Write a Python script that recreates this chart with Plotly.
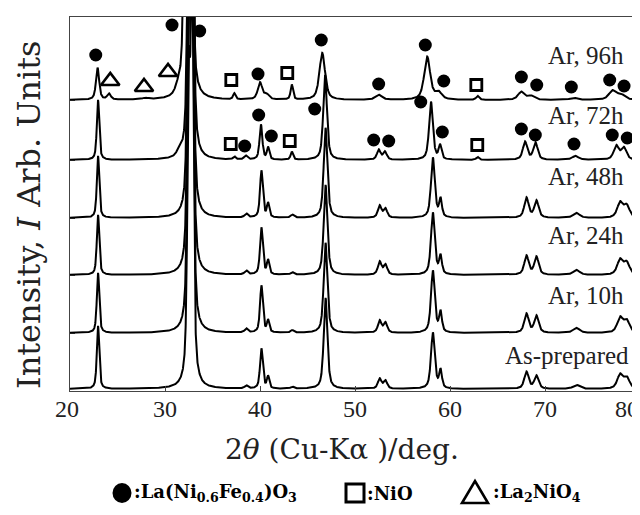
import numpy as np
import plotly.graph_objects as go

# ---------------- data ----------------
sample_labels = ["As-prepared", "Ar, 10h", "Ar, 24h", "Ar, 48h", "Ar, 72h", "Ar, 96h"]
baseline_offsets = [2, 58, 116, 173, 231, 291]          # vertical stacking offsets (a.u.)

# peak tables: position (deg 2theta), height (a.u.), FWHM (deg)
asprep_pos = [22.95, 32.5, 32.85, 38.55, 40.15, 40.85, 43.4, 46.9, 52.6, 53.2, 58.2, 59.0, 68.05, 69.1, 73.3, 77.9, 78.6]
asprep_hgt = [63, 280, 400, 3, 40, 12, 2, 91, 10, 8, 56, 18, 17, 13, 4, 14, 11]
asprep_fwhm = [0.3, 0.35, 0.35, 0.4, 0.35, 0.3, 0.4, 0.46, 0.45, 0.45, 0.48, 0.35, 0.55, 0.55, 0.8, 0.7, 0.7]

h10_pos = [22.95, 32.5, 32.85, 38.55, 40.15, 40.85, 43.4, 46.9, 52.6, 53.2, 58.2, 59.0, 68.05, 69.1, 73.3, 77.9, 78.6]
h10_hgt = [60, 280, 400, 4, 47, 12, 2.5, 90, 12, 10, 62, 20, 19, 17, 5, 15, 12]
h10_fwhm = [0.3, 0.35, 0.35, 0.4, 0.35, 0.3, 0.4, 0.46, 0.45, 0.45, 0.48, 0.35, 0.55, 0.55, 0.8, 0.7, 0.7]

h24_pos = [22.95, 32.5, 32.85, 38.55, 40.15, 40.85, 43.4, 46.9, 52.6, 53.2, 58.2, 59.0, 68.05, 69.1, 73.3, 77.9, 78.6]
h24_hgt = [60, 280, 400, 4, 47, 14, 2.5, 90, 13, 10, 62, 18, 19, 18, 5, 15, 12]
h24_fwhm = [0.3, 0.35, 0.35, 0.4, 0.35, 0.3, 0.4, 0.46, 0.45, 0.45, 0.48, 0.35, 0.55, 0.55, 0.8, 0.7, 0.7]

h48_pos = [22.95, 32.5, 32.85, 38.55, 40.15, 40.85, 43.4, 46.9, 52.6, 53.2, 58.2, 59.0, 68.05, 69.1, 73.3, 77.9, 78.6]
h48_hgt = [62, 280, 400, 4, 47, 14, 3, 90, 12, 9, 60, 18, 20, 17, 5, 15, 12]
h48_fwhm = [0.3, 0.35, 0.35, 0.4, 0.35, 0.3, 0.4, 0.46, 0.45, 0.45, 0.48, 0.35, 0.55, 0.55, 0.8, 0.7, 0.7]

h72_pos = [22.95, 31.5, 32.5, 32.85, 37.3, 38.5, 40.1, 40.85, 43.35, 46.85, 52.5, 53.15, 58.0, 58.95, 62.9, 67.9, 69.0, 73.2, 77.5, 78.3]
h72_hgt = [60, 5, 280, 400, 3, 4, 35, 12, 8, 85, 10, 8, 58, 14, 3, 18, 17, 4, 14, 12]
h72_fwhm = [0.3, 0.6, 0.35, 0.35, 0.3, 0.4, 0.35, 0.3, 0.3, 0.46, 0.45, 0.45, 0.48, 0.35, 0.35, 0.55, 0.55, 0.8, 0.65, 0.65]

h96_pos = [22.9, 24.1, 27.9, 31.4, 32.15, 32.7, 37.3, 40.0, 40.7, 43.35, 46.55, 52.5, 57.6, 58.8, 62.9, 67.5, 68.5, 73.0, 77.1, 78.0]
h96_hgt = [32, 6, 1.5, 8, 200, 400, 6, 17, 5, 15, 47, 5, 43, 7, 4, 8, 4, 2, 9, 5]
h96_fwhm = [0.4, 0.45, 0.7, 0.7, 0.45, 0.4, 0.3, 0.55, 0.6, 0.3, 0.7, 0.8, 0.75, 0.8, 0.35, 0.8, 0.8, 0.9, 0.9, 1.0]

# phase markers (2theta, stacked intensity)
lnf_x = [22.71, 30.74, 33.65, 39.79, 46.45, 52.49, 57.4, 59.34, 67.51, 69.13, 72.77, 76.81, 78.32,
         39.86, 45.76, 38.39, 41.19, 56.92, 51.97, 53.55, 59.19, 67.51, 68.98, 73.05, 77.08, 78.66]
lnf_y = [336, 366, 360, 317, 351, 307, 346, 310, 314, 306, 304, 311, 305,
         276, 282, 245, 255, 289, 251, 250, 259, 262, 256, 247, 256, 253]
nio_x = [36.98, 42.87, 62.77, 36.92, 43.13, 62.87]
nio_y = [311, 318, 306, 247, 250, 246]
la2nio4_x = [24.24, 27.79, 30.32]
la2nio4_y = [310, 304, 319]

x_ticks = [20, 30, 40, 50, 60, 70, 80]
label_y = [36, 96, 156, 215, 276, 336]

# ---------------- build figure ----------------
ETA = 0.6
tt = np.arange(20.0, 80.0001, 0.01)


def pattern(pos, hgt, fwhm):
    y = np.zeros_like(tt)
    for p, h, w in zip(pos, hgt, fwhm):
        d = (tt - p) / w
        lor = 1.0 / (1.0 + 4.0 * d * d)
        gau = np.exp(-4.0 * np.log(2.0) * d * d)
        y += h * (ETA * lor + (1 - ETA) * gau)
    return y


tables = [(asprep_pos, asprep_hgt, asprep_fwhm), (h10_pos, h10_hgt, h10_fwhm),
          (h24_pos, h24_hgt, h24_fwhm), (h48_pos, h48_hgt, h48_fwhm),
          (h72_pos, h72_hgt, h72_fwhm), (h96_pos, h96_hgt, h96_fwhm)]

fig = go.Figure()
for (pos, hgt, fw), off, name in zip(tables, baseline_offsets, sample_labels):
    fig.add_trace(go.Scatter(x=tt, y=pattern(pos, hgt, fw) + off, mode="lines",
                             line=dict(color="black", width=2), name=name,
                             showlegend=False, hoverinfo="skip"))

fig.add_trace(go.Scatter(x=lnf_x, y=lnf_y, mode="markers", showlegend=False,
                         marker=dict(symbol="circle", size=13, color="black", line=dict(width=0))))
fig.add_trace(go.Scatter(x=nio_x, y=nio_y, mode="markers", showlegend=False,
                         marker=dict(symbol="square-open", size=11, color="black",
                                     line=dict(width=2.8, color="black"))))
fig.add_trace(go.Scatter(x=la2nio4_x, y=la2nio4_y, mode="markers", showlegend=False,
                         marker=dict(symbol="triangle-up-open", size=16, color="black",
                                     line=dict(width=2.6, color="black"))))

SERIF = "Liberation Serif"
WIDE = "DejaVu Serif"


def py(p):
    """convert a vertical page position into paper units of the plot area"""
    return (383 - p) / 374


def px(p):
    """convert a horizontal page position into paper units of the plot area"""
    return (p - 62) / 570


annotations = []
for txt, yv in zip(sample_labels, label_y):
    xr = 79.05 if txt == "As-prepared" else 78.5
    annotations.append(dict(x=xr, y=yv, xref="x", yref="y", text=txt, showarrow=False,
                            xanchor="right", yanchor="middle",
                            font=dict(family=SERIF, size=25, color="#222")))

# x tick labels
for v in x_ticks:
    if v == 80:
        annotations.append(dict(x=px(633), y=py(401), xref="paper", yref="paper", text=str(v),
                                showarrow=False, xanchor="right", yanchor="middle",
                                font=dict(family=SERIF, size=24, color="#222")))
    else:
        annotations.append(dict(x=v, y=py(401), xref="x", yref="paper", text=str(v), showarrow=False,
                                xanchor="center", yanchor="middle", xshift=-3 if v == 20 else 0,
                                font=dict(family=SERIF, size=24, color="#222")))

# axis titles
annotations.append(dict(x=px(334), y=py(441), xref="paper", yref="paper",
                        text="2<i>θ</i> (Cu-Kα )/deg.", showarrow=False,
                        xanchor="center", yanchor="middle",
                        font=dict(family=WIDE, size=28, color="#222")))
annotations.append(dict(x=px(21), y=py(207), xref="paper", yref="paper",
                        text="Intensity, <i>I</i> Arb. Units", showarrow=False, textangle=-90,
                        xanchor="center", yanchor="middle",
                        font=dict(family=WIDE, size=32, color="#222")))

# phase key
ky = py(485)
key_font = dict(family=WIDE, size=18, color="black")
annotations.append(dict(x=px(124), y=ky, xref="paper", yref="paper",
                        text="<b>:La(Ni<sub>0.6</sub>Fe<sub>0.4</sub>)O<sub>3</sub></b>", showarrow=False,
                        xanchor="left", yanchor="middle", font=key_font))
annotations.append(dict(x=px(357), y=ky, xref="paper", yref="paper",
                        text="<b>:NiO</b>", showarrow=False,
                        xanchor="left", yanchor="middle", font=key_font))
annotations.append(dict(x=px(483), y=ky, xref="paper", yref="paper",
                        text="<b>:La<sub>2</sub>NiO<sub>4</sub></b>", showarrow=False,
                        xanchor="left", yanchor="middle", font=key_font))

shapes = [
    dict(type="circle", xref="paper", yref="paper", xsizemode="pixel", ysizemode="pixel",
         xanchor=px(114), yanchor=ky, x0=-9.5, x1=9.5, y0=-10, y1=10,
         fillcolor="black", line=dict(width=0)),
    dict(type="rect", xref="paper", yref="paper", xsizemode="pixel", ysizemode="pixel",
         xanchor=px(347), yanchor=ky, x0=-9, x1=9, y0=-9, y1=9,
         fillcolor="rgba(0,0,0,0)", line=dict(width=3, color="black")),
    dict(type="path", xref="paper", yref="paper", xsizemode="pixel", ysizemode="pixel",
         xanchor=px(467), yanchor=ky, path="M-13,-10 L13,-10 L0,12 Z",
         fillcolor="rgba(0,0,0,0)", line=dict(width=2.6, color="black")),
]

fig.update_layout(
    width=640, height=515,
    margin=dict(l=62, r=8, t=9, b=132),
    plot_bgcolor="white", paper_bgcolor="white",
    annotations=annotations, shapes=shapes,
    xaxis=dict(range=[20, 80], tickvals=x_ticks, showticklabels=False,
               ticks="inside", ticklen=5, tickcolor="#444", tickwidth=1,
               showline=True, linecolor="#444", linewidth=1.2, mirror=True,
               showgrid=False, zeroline=False),
    yaxis=dict(range=[0, 374], tickvals=baseline_offsets[1:], showticklabels=False,
               ticks="inside", ticklen=5, tickcolor="#222", tickwidth=1.2,
               showline=True, linecolor="#444", linewidth=1.2, mirror=True,
               showgrid=False, zeroline=False),
)

fig.write_html("out.html")
